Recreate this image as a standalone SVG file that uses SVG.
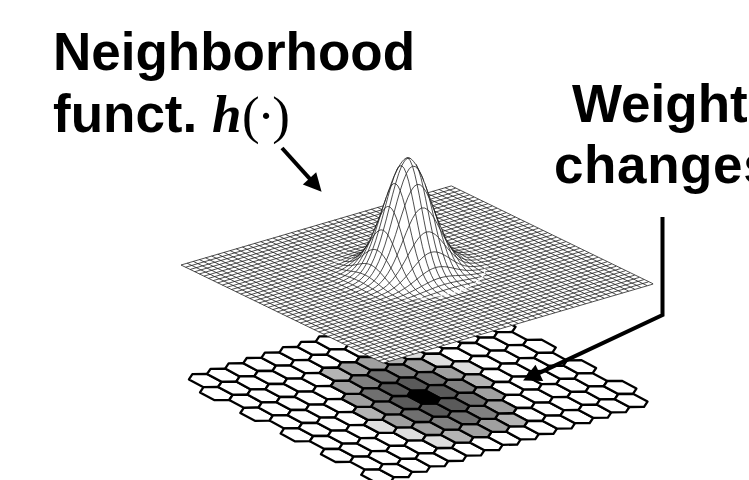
<svg xmlns="http://www.w3.org/2000/svg" width="749" height="480" viewBox="0 0 749 480">
<style>
.h{fill:#fff;stroke:#000;stroke-width:2.3;stroke-linejoin:round}
.k0{fill:#000}.k1{fill:#5a5a5a}.k2{fill:#707070}.k3{fill:#808080}.k4{fill:#a0a0a0}.k5{fill:#b4b4b4}.k6{fill:#dedede}
.m{fill:none;stroke:#222;stroke-width:.8}
.c{fill:none;stroke:#222;stroke-width:.8;vector-effect:non-scaling-stroke;stroke-linejoin:round}
.a{fill:none;stroke:#000;stroke-width:4}
.t{font-family:"Liberation Sans",Arial,sans-serif;font-weight:700;font-size:53px;fill:#000}
.s{font-family:"Liberation Serif","Times New Roman",serif;font-size:53px;fill:#000}
</style>
<defs>
<marker id="ah" markerUnits="userSpaceOnUse" markerWidth="32" markerHeight="24" viewBox="-14 -12 32 24" refX="0" refY="0" orient="auto"><path d="M11 0L-7-9-7 9z" fill="#000"/></marker>
<path id="hx" d="M-13-6.4L1.8-6.6 16.5 1.2 13 6.4-1.8 6.6-16.5-1.2z"/>
<g id="row" class="h">
<use href="#hx"/><use href="#hx" x="18.3" y="-5.4"/><use href="#hx" x="36.6" y="-10.8"/><use href="#hx" x="54.9" y="-16.2"/><use href="#hx" x="73.2" y="-21.6"/><use href="#hx" x="91.5" y="-27"/><use href="#hx" x="109.8" y="-32.4"/><use href="#hx" x="128.1" y="-37.8"/><use href="#hx" x="146.4" y="-43.2"/><use href="#hx" x="164.7" y="-48.6"/><use href="#hx" x="183" y="-54"/><use href="#hx" x="201.3" y="-59.4"/><use href="#hx" x="219.6" y="-64.8"/><use href="#hx" x="237.9" y="-70.2"/><use href="#hx" x="256.2" y="-75.6"/>
</g>
<path id="bell" class="c" d="M-14 0L-13 .0001-12 .0004-11 .0014-10 .0043-9.5 .0074-9 .0122-8.5 .0195-8 .031-7.5 .047-7 .069-6.5 .1-6 .141-5.5 .193-5 .257-4.5 .332-4 .419-3.5 .513-3 .613-2.5 .712-2 .804-1.5 .885-1 .947-.5 .9865 0 1 .5 .9865 1 .947 1.5 .885 2 .804 2.5 .712 3 .613 3.5 .513 4 .419 4.5 .332 5 .257 5.5 .193 6 .141 6.5 .1 7 .069 7.5 .047 8 .031 8.5 .0195 9 .0122 9.5 .0074 10 .0043 11 .0014 12 .0004 13 .0001 14 0"/>
<clipPath id="disk"><circle r="10.5" transform="matrix(6.14 -1.8 4.59 2.23 0 0)"/></clipPath>
<clipPath id="b-9"><rect x="-4.36" y="-1" width="8.72" height="3"/></clipPath>
<clipPath id="b-8"><rect x="-6" y="-1" width="12" height="3"/></clipPath>
<clipPath id="b-7"><rect x="-7.14" y="-1" width="14.28" height="3"/></clipPath>
<clipPath id="b-6"><rect x="-8" y="-1" width="16" height="3"/></clipPath>
<clipPath id="b-5"><rect x="-7.5" y="-1" width="16.16" height="3"/></clipPath>
<clipPath id="b-4"><rect x="-6.75" y="-1" width="15.92" height="3"/></clipPath>
<clipPath id="b-3"><rect x="-3.1" y="-1" width="12.64" height="3"/></clipPath>
<clipPath id="b-2"><rect x="-1.95" y="-1" width="11.75" height="3"/></clipPath>
<clipPath id="b-1"><rect x="-1.1" y="-1" width="11.05" height="3"/></clipPath>
<clipPath id="b0"><rect x="-.3" y="-1" width="10.3" height="3"/></clipPath>
<clipPath id="b1"><rect x=".43" y="-1" width="9.52" height="3"/></clipPath>
<clipPath id="b2"><rect x="1.1" y="-1" width="8.7" height="3"/></clipPath>
<clipPath id="b3"><rect x="1.68" y="-1" width="7.86" height="3"/></clipPath>
<clipPath id="b4"><rect x="2.07" y="-1" width="7.1" height="3"/></clipPath>
<clipPath id="b5"><rect x="2.23" y="-1" width="6.43" height="3"/></clipPath>
<clipPath id="b6"><rect x="1.95" y="-1" width="6.05" height="3"/></clipPath>
<clipPath id="b7"><rect x="1.5" y="-1" width="5.64" height="3"/></clipPath>
<clipPath id="b8"><rect x="2.25" y="-1" width="3.75" height="3"/></clipPath>
<clipPath id="b9"><rect x="3" y="-1" width="1.36" height="3"/></clipPath>
<clipPath id="a9"><rect x="-4.36" y="-1" width="8.72" height="3"/></clipPath>
<clipPath id="a8"><rect x="-6" y="-1" width="12" height="3"/></clipPath>
<clipPath id="a7"><rect x="-7.14" y="-1" width="14.28" height="3"/></clipPath>
<clipPath id="a6"><rect x="-8" y="-1" width="16" height="3"/></clipPath>
<clipPath id="a5"><rect x="-8.66" y="-1" width="17.32" height="3"/></clipPath>
<clipPath id="a4"><rect x="-9.17" y="-1" width="18.34" height="3"/></clipPath>
<clipPath id="a3"><rect x="-9.54" y="-1" width="18.54" height="3"/></clipPath>
<clipPath id="a2"><rect x="-9.8" y="-1" width="13.5" height="3"/></clipPath>
<clipPath id="a1"><rect x="-9.95" y="-1" width="11.8" height="3"/></clipPath>
<clipPath id="a0"><rect x="-10" y="-1" width="10.4" height="3"/></clipPath>
<clipPath id="a-1"><rect x="-9.95" y="-1" width="9.05" height="3"/></clipPath>
<clipPath id="a-2"><rect x="-9.8" y="-1" width="7.75" height="3"/></clipPath>
<clipPath id="a-3"><rect x="-9.54" y="-1" width="6.59" height="3"/></clipPath>
<clipPath id="a-4"><rect x="-9.17" y="-1" width="5.67" height="3"/></clipPath>
<clipPath id="a-5"><rect x="-8.66" y="-1" width="5.11" height="3"/></clipPath>
<clipPath id="a-6"><rect x="-8" y="-1" width="4.85" height="3"/></clipPath>
<clipPath id="a-7"><rect x="-7.14" y="-1" width="2.81" height="3"/></clipPath>
</defs>

<g id="hex-sheet" transform="translate(5 0) scale(.99 1)">
<use href="#row" transform="translate(202.3 380.6)"/>
<use href="#row" transform="translate(213.5 393.6)"/>
<use href="#row" transform="translate(243 401.2)"/>
<use href="#row" transform="translate(254.2 414.2)"/>
<use href="#row" transform="translate(283.7 421.8)"/>
<use href="#row" transform="translate(294.9 434.8)"/>
<use href="#row" transform="translate(324.4 442.4)"/>
<use href="#row" transform="translate(335.6 455.4)"/>
<use href="#row" transform="translate(365.1 463)"/>
<use href="#row" transform="translate(376.3 476)"/>
<g id="shaded" transform="translate(423 397)" stroke="#000" stroke-width="2.3" stroke-linejoin="round">
<g class="k6"><use href="#hx" x="14.2" y="-36.8"/><use href="#hx" x="43.7" y="-29.2"/><use href="#hx" x="-15.3" y="-44.4"/><use href="#hx" x="-14.2" y="36.8"/><use href="#hx" x="-43.7" y="29.2"/><use href="#hx" x="15.3" y="44.4"/></g>
<g class="k5"><use href="#hx" x="54.9" y="-16.2"/><use href="#hx" x="33.6" y="39"/><use href="#hx" x="88.5" y="22.8"/><use href="#hx" x="-54.9" y="16.2"/><use href="#hx" x="-33.6" y="-39"/><use href="#hx" x="-88.5" y="-22.8"/></g>
<g class="k4"><use href="#hx" x="66.1" y="-3.2"/><use href="#hx" x="77.3" y="9.8"/><use href="#hx" x="70.2" y="28.2"/><use href="#hx" x="51.9" y="33.6"/><use href="#hx" x="25.4" y="-23.8"/><use href="#hx" x="-4.1" y="-31.4"/><use href="#hx" x="-66.1" y="3.2"/><use href="#hx" x="-77.3" y="-9.8"/><use href="#hx" x="-70.2" y="-28.2"/><use href="#hx" x="-51.9" y="-33.6"/><use href="#hx" x="-25.4" y="23.8"/><use href="#hx" x="4.1" y="31.4"/></g>
<g class="k3"><use href="#hx" x="36.6" y="-10.8"/><use href="#hx" x="22.4" y="26"/><use href="#hx" x="59" y="15.2"/><use href="#hx" x="-36.6" y="10.8"/><use href="#hx" x="-22.4" y="-26"/><use href="#hx" x="-59" y="-15.2"/></g>
<g class="k2"><use href="#hx" x="47.8" y="2.2"/><use href="#hx" x="40.7" y="20.6"/><use href="#hx" x="7.1" y="-18.4"/><use href="#hx" x="-47.8" y="-2.2"/><use href="#hx" x="-40.7" y="-20.6"/><use href="#hx" x="-7.1" y="18.4"/></g>
<g class="k1"><use href="#hx" x="18.3" y="-5.4"/><use href="#hx" x="11.2" y="13"/><use href="#hx" x="29.5" y="7.6"/><use href="#hx" x="-18.3" y="5.4"/><use href="#hx" x="-11.2" y="-13"/><use href="#hx" x="-29.5" y="-7.6"/></g>
<use href="#hx" class="k0"/>
</g>
</g>

<g id="surface">
<path d="M181 265L451 186 655 284 383 363z" fill="#fff"/>
<path class="m" d="M181 265
l270-79m-265.41 81.23l270-79m-265.41 81.23l270-79m-265.41 81.23l270-79m-265.41 81.23l270-79m-265.41 81.23
l270-79m-265.41 81.23l270-79m-265.41 81.23l270-79m-265.41 81.23l270-79m-265.41 81.23l270-79m-265.41 81.23
l270-79m-265.41 81.23l270-79m-265.41 81.23l270-79m-265.41 81.23l270-79m-265.41 81.23l270-79m-265.41 81.23
l270-79m-265.41 81.23l270-79m-265.41 81.23l270-79m-265.41 81.23l270-79m-265.41 81.23l270-79m-265.41 81.23
l270-79m-265.41 81.23l270-79m-265.41 81.23l270-79m-265.41 81.23l270-79m-265.41 81.23l270-79m-265.41 81.23
l270-79m-265.41 81.23l270-79m-265.41 81.23l270-79m-265.41 81.23l270-79m-265.41 81.23l270-79m-265.41 81.23
l270-79m-265.41 81.23l270-79m-265.41 81.23l270-79m-265.41 81.23l270-79m-265.41 81.23l270-79m-265.41 81.23
l270-79m-265.41 81.23l270-79m-265.41 81.23l270-79m-265.41 81.23l270-79m-265.41 81.23l270-79m-265.41 81.23
l270-79m-265.41 81.23l270-79m-265.41 81.23l270-79m-265.41 81.23l270-79m-265.41 81.23l270-79"/>
<path class="m" d="M181 265
l202 98m-195.86-99.8l202 98m-195.86-99.8l202 98m-195.86-99.8l202 98m-195.86-99.8l202 98m-195.86-99.8
l202 98m-195.86-99.8l202 98m-195.86-99.8l202 98m-195.86-99.8l202 98m-195.86-99.8l202 98m-195.86-99.8
l202 98m-195.86-99.8l202 98m-195.86-99.8l202 98m-195.86-99.8l202 98m-195.86-99.8l202 98m-195.86-99.8
l202 98m-195.86-99.8l202 98m-195.86-99.8l202 98m-195.86-99.8l202 98m-195.86-99.8l202 98m-195.86-99.8
l202 98m-195.86-99.8l202 98m-195.86-99.8l202 98m-195.86-99.8l202 98m-195.86-99.8l202 98m-195.86-99.8
l202 98m-195.86-99.8l202 98m-195.86-99.8l202 98m-195.86-99.8l202 98m-195.86-99.8l202 98m-195.86-99.8
l202 98m-195.86-99.8l202 98m-195.86-99.8l202 98m-195.86-99.8l202 98m-195.86-99.8l202 98m-195.86-99.8
l202 98m-195.86-99.8l202 98m-195.86-99.8l202 98m-195.86-99.8l202 98m-195.86-99.8l202 98m-195.86-99.8
l202 98m-195.86-99.8l202 98m-195.86-99.8l202 98m-195.86-99.8l202 98m-195.86-99.8l202 98"/>
<g id="bump" transform="translate(407.9 270)">
<circle r="10.5" fill="#fff" transform="matrix(6.14 -1.8 4.59 2.23 0 0)"/>
<g id="bump-back" clip-path="url(#disk)">
<use href="#bell" transform="matrix(4.59 2.23 0 -.48 -61.4 18)"/><use href="#bell" transform="matrix(4.59 2.23 0 -1.37 -55.26 16.2)"/><use href="#bell" transform="matrix(4.59 2.23 0 -3.5 -49.12 14.4)"/><use href="#bell" transform="matrix(4.59 2.23 0 -7.7 -42.98 12.6)"/><use href="#bell" transform="matrix(4.59 2.23 0 -15.8 -36.84 10.8)"/><use href="#bell" transform="matrix(4.59 2.23 0 -28.8 -30.7 9)"/><use href="#bell" transform="matrix(4.59 2.23 0 -46.9 -24.56 7.2)"/><use href="#bell" transform="matrix(4.59 2.23 0 -68.7 -18.42 5.4)"/><use href="#bell" transform="matrix(4.59 2.23 0 -90 -12.28 3.6)"/><use href="#bell" transform="matrix(4.59 2.23 0 -106.1 -6.14 1.8)"/><use href="#bell" transform="matrix(4.59 2.23 0 -112 0 0)"/><use href="#bell" transform="matrix(4.59 2.23 0 -106.1 6.14 -1.8)"/><use href="#bell" transform="matrix(4.59 2.23 0 -90 12.28 -3.6)"/><use href="#bell" transform="matrix(4.59 2.23 0 -68.7 18.42 -5.4)"/><use href="#bell" transform="matrix(4.59 2.23 0 -46.9 24.56 -7.2)"/><use href="#bell" transform="matrix(4.59 2.23 0 -28.8 30.7 -9)"/><use href="#bell" transform="matrix(4.59 2.23 0 -15.8 36.84 -10.8)"/><use href="#bell" transform="matrix(4.59 2.23 0 -7.7 42.98 -12.6)"/><use href="#bell" transform="matrix(4.59 2.23 0 -3.5 49.12 -14.4)"/><use href="#bell" transform="matrix(4.59 2.23 0 -1.37 55.26 -16.2)"/><use href="#bell" transform="matrix(4.59 2.23 0 -.48 61.4 -18)"/>
<use href="#bell" transform="matrix(6.14 -1.8 0 -.48 -45.9 -22.3)"/><use href="#bell" transform="matrix(6.14 -1.8 0 -1.37 -41.31 -20.07)"/><use href="#bell" transform="matrix(6.14 -1.8 0 -3.5 -36.72 -17.84)"/><use href="#bell" transform="matrix(6.14 -1.8 0 -7.7 -32.13 -15.61)"/><use href="#bell" transform="matrix(6.14 -1.8 0 -15.8 -27.54 -13.38)"/><use href="#bell" transform="matrix(6.14 -1.8 0 -28.8 -22.95 -11.15)"/><use href="#bell" transform="matrix(6.14 -1.8 0 -46.9 -18.36 -8.92)"/><use href="#bell" transform="matrix(6.14 -1.8 0 -68.7 -13.77 -6.69)"/><use href="#bell" transform="matrix(6.14 -1.8 0 -90 -9.18 -4.46)"/><use href="#bell" transform="matrix(6.14 -1.8 0 -106.1 -4.59 -2.23)"/><use href="#bell" transform="matrix(6.14 -1.8 0 -112 0 0)"/><use href="#bell" transform="matrix(6.14 -1.8 0 -106.1 4.59 2.23)"/><use href="#bell" transform="matrix(6.14 -1.8 0 -90 9.18 4.46)"/><use href="#bell" transform="matrix(6.14 -1.8 0 -68.7 13.77 6.69)"/><use href="#bell" transform="matrix(6.14 -1.8 0 -46.9 18.36 8.92)"/><use href="#bell" transform="matrix(6.14 -1.8 0 -28.8 22.95 11.15)"/><use href="#bell" transform="matrix(6.14 -1.8 0 -15.8 27.54 13.38)"/><use href="#bell" transform="matrix(6.14 -1.8 0 -7.7 32.13 15.61)"/><use href="#bell" transform="matrix(6.14 -1.8 0 -3.5 36.72 17.84)"/><use href="#bell" transform="matrix(6.14 -1.8 0 -1.37 41.31 20.07)"/><use href="#bell" transform="matrix(6.14 -1.8 0 -.48 45.9 22.3)"/>
</g>
<path fill="#fff" d="M-47-16.7L-45.9-17.8-42.1-22.8-38.35-29.5-30.7-47.1-23-68.8-15.3-90.3C-11-101-5-112.4 0-112.4 5-112.4 11-101 15.3-90.7L23-69.5 30.6-48.2 38.3-30.6 42.2-24 46-19 47.2-18 57.5-12.5 72.8-10A76.7 28.6 0 1 1-72.8-8.2L-57.5-11z"/>
<path class="c" d="M-47-16.7L-45.9-17.8-42.1-22.8-38.35-29.5-30.7-47.1-23-68.8-15.3-90.3C-11-101-5-112.4 0-112.4 5-112.4 11-101 15.3-90.7L23-69.5 30.6-48.2 38.3-30.6 42.2-24 46-19 47.2-18"/>
<g id="bump-front">
<use href="#bell" clip-path="url(#b-9)" transform="matrix(4.59 2.23 0 -1.37 -55.26 16.2)"/>
<use href="#bell" clip-path="url(#b-8)" transform="matrix(4.59 2.23 0 -3.5 -49.12 14.4)"/>
<use href="#bell" clip-path="url(#b-7)" transform="matrix(4.59 2.23 0 -7.7 -42.98 12.6)"/>
<use href="#bell" clip-path="url(#b-6)" transform="matrix(4.59 2.23 0 -15.8 -36.84 10.8)"/>
<use href="#bell" clip-path="url(#b-5)" transform="matrix(4.59 2.23 0 -28.8 -30.7 9)"/>
<use href="#bell" clip-path="url(#b-4)" transform="matrix(4.59 2.23 0 -46.9 -24.56 7.2)"/>
<use href="#bell" clip-path="url(#b-3)" transform="matrix(4.59 2.23 0 -68.7 -18.42 5.4)"/>
<use href="#bell" clip-path="url(#b-2)" transform="matrix(4.59 2.23 0 -90 -12.28 3.6)"/>
<use href="#bell" clip-path="url(#b-1)" transform="matrix(4.59 2.23 0 -106.1 -6.14 1.8)"/>
<use href="#bell" clip-path="url(#b0)" transform="matrix(4.59 2.23 0 -112 0 0)"/>
<use href="#bell" clip-path="url(#b1)" transform="matrix(4.59 2.23 0 -106.1 6.14 -1.8)"/>
<use href="#bell" clip-path="url(#b2)" transform="matrix(4.59 2.23 0 -90 12.28 -3.6)"/>
<use href="#bell" clip-path="url(#b3)" transform="matrix(4.59 2.23 0 -68.7 18.42 -5.4)"/>
<use href="#bell" clip-path="url(#b4)" transform="matrix(4.59 2.23 0 -46.9 24.56 -7.2)"/>
<use href="#bell" clip-path="url(#b5)" transform="matrix(4.59 2.23 0 -28.8 30.7 -9)"/>
<use href="#bell" clip-path="url(#b6)" transform="matrix(4.59 2.23 0 -15.8 36.84 -10.8)"/>
<use href="#bell" clip-path="url(#b7)" transform="matrix(4.59 2.23 0 -7.7 42.98 -12.6)"/>
<use href="#bell" clip-path="url(#b8)" transform="matrix(4.59 2.23 0 -3.5 49.12 -14.4)"/>
<use href="#bell" clip-path="url(#b9)" transform="matrix(4.59 2.23 0 -1.37 55.26 -16.2)"/>
<use href="#bell" clip-path="url(#a9)" transform="matrix(6.14 -1.8 0 -1.37 41.31 20.07)"/>
<use href="#bell" clip-path="url(#a8)" transform="matrix(6.14 -1.8 0 -3.5 36.72 17.84)"/>
<use href="#bell" clip-path="url(#a7)" transform="matrix(6.14 -1.8 0 -7.7 32.13 15.61)"/>
<use href="#bell" clip-path="url(#a6)" transform="matrix(6.14 -1.8 0 -15.8 27.54 13.38)"/>
<use href="#bell" clip-path="url(#a5)" transform="matrix(6.14 -1.8 0 -28.8 22.95 11.15)"/>
<use href="#bell" clip-path="url(#a4)" transform="matrix(6.14 -1.8 0 -46.9 18.36 8.92)"/>
<use href="#bell" clip-path="url(#a3)" transform="matrix(6.14 -1.8 0 -68.7 13.77 6.69)"/>
<use href="#bell" clip-path="url(#a2)" transform="matrix(6.14 -1.8 0 -90 9.18 4.46)"/>
<use href="#bell" clip-path="url(#a1)" transform="matrix(6.14 -1.8 0 -106.1 4.59 2.23)"/>
<use href="#bell" clip-path="url(#a0)" transform="matrix(6.14 -1.8 0 -112 0 0)"/>
<use href="#bell" clip-path="url(#a-1)" transform="matrix(6.14 -1.8 0 -106.1 -4.59 -2.23)"/>
<use href="#bell" clip-path="url(#a-2)" transform="matrix(6.14 -1.8 0 -90 -9.18 -4.46)"/>
<use href="#bell" clip-path="url(#a-3)" transform="matrix(6.14 -1.8 0 -68.7 -13.77 -6.69)"/>
<use href="#bell" clip-path="url(#a-4)" transform="matrix(6.14 -1.8 0 -46.9 -18.36 -8.92)"/>
<use href="#bell" clip-path="url(#a-5)" transform="matrix(6.14 -1.8 0 -28.8 -22.95 -11.15)"/>
<use href="#bell" clip-path="url(#a-6)" transform="matrix(6.14 -1.8 0 -15.8 -27.54 -13.38)"/>
<use href="#bell" clip-path="url(#a-7)" transform="matrix(6.14 -1.8 0 -7.7 -32.13 -15.61)"/>
</g>
</g>
</g>

<g id="connectors">
<path class="a" d="M282 148L314.2 183.6" marker-end="url(#ah)"/>
<path class="a" d="M662.5 217V315L533 375.9" marker-end="url(#ah)"/>
</g>

<g id="labels">
<text class="t" x="53" y="70">Neighborhood</text>
<text class="t" x="53" y="132">funct.</text>
<text class="s" x="212" y="132" font-style="italic" font-weight="700">h</text>
<text class="s" x="242" y="133" letter-spacing="-2.5">(·)</text>
<text class="t" x="572" y="122">Weight</text>
<text class="t" x="554" y="183" letter-spacing=".6">changes</text>
</g>
</svg>
